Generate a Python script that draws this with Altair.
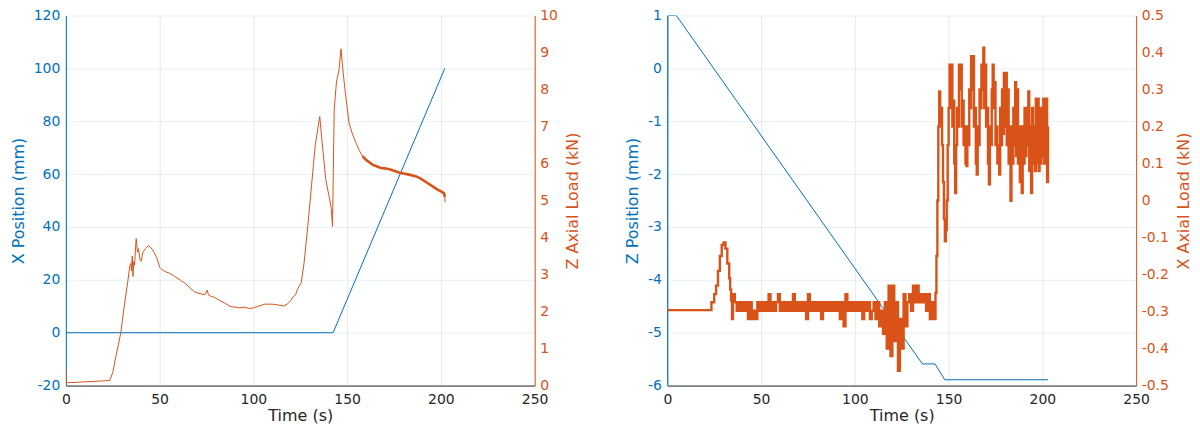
import altair as alt
import pandas as pd

BLUE = "#0072BD"
ORANGE = "#D95319"
DARK = "#262626"
FONT = "DejaVu Sans"

# ---------------- Left panel data ----------------
xpos_t = [0, 142.5, 202.1]
xpos_v = [0, 0, 100]

zload_t = [0, 0.3, 3, 10, 18, 21, 23.4, 25, 26.5, 28, 29.3, 31, 33, 34, 34.6, 35, 35.4, 35.8,
           36.2, 36.6, 37.5, 38.2, 38.8, 39.5, 40.2, 41, 42.5, 44, 45.5, 47, 48.5, 50, 51.5, 53,
           56, 58, 61, 64, 67, 69, 72, 74, 75.4, 76, 77, 79.4, 82, 85, 87.6, 90, 92.5, 95, 98,
           100, 103, 106, 110, 113, 116.3, 118, 120, 121.4, 122.5, 123.5, 125.5, 127, 129, 131,
           133, 135.4, 136.6, 138.6, 140.4, 141.5, 142.2, 143.1, 144.3, 145.7, 146.7, 148,
           149.3, 151, 152.8, 154.6, 156.5, 158.2]
zload_v = [0.48, 0.08, 0.08, 0.1, 0.12, 0.13, 0.14, 0.35, 0.75, 1.1, 1.43, 2.1, 2.8, 3.2, 3.3,
           3.1, 3.5, 2.95, 3.35, 3.25, 3.97, 3.6, 3.7, 3.4, 3.36, 3.6, 3.7, 3.78, 3.72, 3.6,
           3.45, 3.2, 3.12, 3.08, 3.02, 2.95, 2.85, 2.75, 2.6, 2.52, 2.48, 2.45, 2.58, 2.45,
           2.42, 2.38, 2.3, 2.22, 2.14, 2.12, 2.1, 2.12, 2.08, 2.1, 2.15, 2.2, 2.2, 2.18, 2.15,
           2.2, 2.3, 2.41, 2.45, 2.6, 2.78, 3.3, 4.3, 5.4, 6.5, 7.27, 6.6, 5.57, 5.1, 4.8, 4.3,
           7.46, 8.2, 8.54, 9.1, 8.4, 7.8, 7.1, 6.8, 6.57, 6.35, 6.2]

# noisy (thick) tail of the Z axial load
zload_tail_t = [158.2, 160, 163.5, 166, 168, 170, 173, 177.7, 180, 183, 186.5, 189, 192,
                195.4, 198, 200, 201.6, 202.1]
zload_tail_v = [6.2, 6.1, 5.97, 5.92, 5.88, 5.87, 5.84, 5.76, 5.73, 5.7, 5.66, 5.6, 5.5,
                5.39, 5.3, 5.25, 5.2, 5.1]
zload_end_t = [201.6, 202.1, 202.2]
zload_end_v = [5.2, 5.1, 4.95]

# ---------------- Right panel data ----------------
zpos_t = [0, 0.2, 4.8, 136, 142.7, 148, 203]
zpos_v = [-6, 1, 1, -5.59, -5.59, -5.89, -5.89]

xload_t = [0, 23.4, 23.5, 25, 26, 27, 28, 29, 30, 31, 32, 33, 33.5, 34, 34.5,
           35, 36, 37, 38, 39, 40, 41, 42, 43, 44, 45, 46, 47, 48, 49, 50, 51, 52, 53, 54,
           55, 56, 57, 58, 59, 60, 61, 62, 63, 64, 65, 66, 67, 68, 69, 70, 71, 72, 73, 74,
           75, 76, 77, 78, 79, 80, 81, 82, 83, 84, 85, 86, 87, 88, 89, 90, 91, 92, 93, 94,
           95, 96, 97, 98, 99, 100, 101, 102, 103, 104, 105, 106, 107, 108, 109, 110, 111,
           112, 113, 114, 115, 116, 117, 118, 119, 120, 121, 122, 123, 124, 125, 126, 127,
           128, 129, 130, 131, 132, 133, 134, 135, 136, 137, 138, 139, 140, 141, 142, 143,
           143.5, 144, 144.5, 145, 145.5, 146, 146.5, 147, 147.5, 148, 148.5, 149, 149.5,
           150, 150.5, 151, 151.5, 152, 152.5, 153, 153.5, 154, 154.5, 155, 155.5, 156,
           156.5, 157, 157.5, 158, 158.5, 159, 159.5, 160, 160.5, 161, 161.5, 162, 162.5,
           163, 163.5, 164, 164.5, 165, 165.5, 166, 166.5, 167, 167.5, 168, 168.5, 169,
           169.5, 170, 170.5, 171, 171.5, 172, 172.5, 173, 173.5, 174, 174.5, 175, 175.5,
           176, 176.5, 177, 177.5, 178, 178.5, 179, 179.5, 180, 180.5, 181, 181.5, 182,
           182.5, 183, 183.5, 184, 184.5, 185, 185.5, 186, 186.5, 187, 187.5, 188, 188.5,
           189, 189.5, 190, 190.5, 191, 191.5, 192, 192.5, 193, 193.5, 194, 194.5, 195,
           195.5, 196, 196.5, 197, 197.5, 198, 198.5, 199, 199.5, 200, 200.5, 201, 201.5,
           202, 202.5, 203]
xload_v = [-0.296, -0.296, -0.275, -0.253, -0.23, -0.19, -0.15, -0.12, -0.113, -0.13, -0.17,
           -0.21, -0.24, -0.27, -0.32,
           -0.253, -0.275, -0.298, -0.275, -0.298, -0.275, -0.298, -0.275, -0.32, -0.275,
           -0.32, -0.298, -0.32, -0.275, -0.298, -0.275, -0.298, -0.275, -0.298, -0.253,
           -0.298, -0.275, -0.298, -0.275, -0.253, -0.298, -0.275, -0.298, -0.275, -0.298,
           -0.275, -0.298, -0.253, -0.298, -0.275, -0.298, -0.275, -0.298, -0.275, -0.32,
           -0.253, -0.298, -0.275, -0.298, -0.275, -0.298, -0.275, -0.32, -0.275, -0.298,
           -0.275, -0.298, -0.275, -0.298, -0.275, -0.298, -0.275, -0.32, -0.275, -0.34,
           -0.253, -0.298, -0.275, -0.298, -0.275, -0.298, -0.275, -0.298, -0.275, -0.32,
           -0.275, -0.298, -0.275, -0.32, -0.298, -0.275, -0.32, -0.275, -0.34, -0.298,
           -0.36, -0.275, -0.40, -0.23, -0.42, -0.23, -0.38, -0.275, -0.46, -0.32, -0.40,
           -0.253, -0.34, -0.275, -0.253, -0.298, -0.23, -0.275, -0.23, -0.275, -0.253,
           -0.275, -0.253, -0.298, -0.253, -0.32, -0.275, -0.32, -0.25,
           -0.15, 0.0, 0.2, 0.295, 0.2, 0.25, 0.15, 0.05, -0.05, -0.11, -0.08, 0.0, 0.15,
           0.25, 0.367, 0.25, 0.367, 0.2, 0.27, 0.1, 0.02, 0.15, 0.25, 0.2, 0.367, 0.3,
           0.367, 0.2, 0.27, 0.15, 0.2, 0.1, 0.093, 0.2, 0.15, 0.3, 0.25, 0.39, 0.3,
           0.39, 0.2, 0.25, 0.1, 0.07, 0.2, 0.15, 0.3, 0.25, 0.367, 0.3, 0.413, 0.25,
           0.367, 0.2, 0.25, 0.1, 0.044, 0.2, 0.15, 0.3, 0.367, 0.25, 0.32, 0.15, 0.2,
           0.1, 0.15, 0.07, 0.25, 0.15, 0.3, 0.18, 0.345, 0.2, 0.345, 0.15, 0.3, 0.1,
           0.2, -0.001, 0.2, 0.1, 0.25, 0.15, 0.32, 0.12, 0.3, 0.1, 0.2, 0.05, 0.2,
           0.02, 0.2, 0.1, 0.25, 0.12, 0.25, 0.15, 0.295, 0.08, 0.2, 0.02, 0.25, 0.1,
           0.2, 0.08, 0.275, 0.1, 0.275, 0.08, 0.25, 0.1, 0.25, 0.12, 0.275, 0.1, 0.2,
           0.275, 0.05, 0.2]

time_ticks = [0, 50, 100, 150, 200, 250]
xpos_ticks = [-20, 0, 20, 40, 60, 80, 100, 120]
zload_ticks = [0, 1, 2, 3, 4, 5, 6, 7, 8, 9, 10]
zpos_ticks = [-6, -5, -4, -3, -2, -1, 0, 1]
xload_ticks = [-0.5, -0.4, -0.3, -0.2, -0.1, 0, 0.1, 0.2, 0.3, 0.4, 0.5]

W, H = 470, 371
MINUS_FIX = "replace(datum.label, '\u2212', '-')"


def xenc():
    return alt.X(
        "t:Q",
        scale=alt.Scale(domain=[0, 250], nice=False, zero=False),
        axis=alt.Axis(
            title="Time (s)", values=time_ticks, labelFlush=False, ticks=False,
            labelPadding=7, titlePadding=1, domainColor=DARK, labelColor=DARK,
            titleColor=DARK, gridColor=DARK, gridOpacity=0.1, grid=True, format="d",
        ),
    )


def left_axis(title, ticks, fmt):
    return alt.Axis(
        title=title, orient="left", values=ticks, ticks=False, labelPadding=6,
        titlePadding=7, domainColor=BLUE, labelColor=BLUE, titleColor=BLUE,
        grid=True, gridColor=BLUE, gridOpacity=0.1, format=fmt, labelExpr=MINUS_FIX,
    )


def right_axis(title, ticks, fmt):
    return alt.Axis(
        title=title, orient="right", values=ticks, ticks=False, labelPadding=5,
        titlePadding=7, domainColor=ORANGE, labelColor=ORANGE, titleColor=ORANGE,
        grid=False, titleAngle=270, titleBaseline="top", format=fmt,
        labelExpr=MINUS_FIX,
    )


def line(t, v, color, width, yscale_dom, axis, interp="linear"):
    df = pd.DataFrame({"t": t, "v": v})
    return alt.Chart(df).mark_line(
        color=color, strokeWidth=width, clip=True, interpolate=interp
    ).encode(
        x=xenc(),
        y=alt.Y("v:Q", scale=alt.Scale(domain=yscale_dom, nice=False, zero=False), axis=axis),
    )


# left panel
lp_blue = line(xpos_t, xpos_v, BLUE, 1, [-20, 120], left_axis("X Position (mm)", xpos_ticks, "d"))
raxis1 = right_axis("Z Axial Load (kN)", zload_ticks, "d")
lp_or1 = line(zload_t, zload_v, ORANGE, 1, [0, 10], raxis1)
lp_or2 = line(zload_tail_t, zload_tail_v, ORANGE, 2.6, [0, 10], raxis1)
lp_or3 = line(zload_end_t, zload_end_v, ORANGE, 1, [0, 10], raxis1)
left_panel = alt.layer(
    lp_blue, alt.layer(lp_or1, lp_or2, lp_or3)
).resolve_scale(y="independent").properties(width=W, height=H)

# right panel
rp_blue = line(zpos_t, zpos_v, BLUE, 1, [-6, 1], left_axis("Z Position (mm)", zpos_ticks, "d"))
rp_or = line(xload_t, xload_v, ORANGE, 2.4, [-0.5, 0.5],
             right_axis("X Axial Load (kN)", xload_ticks, ".1~f"), interp="step-after")
right_panel = alt.layer(rp_blue, rp_or).resolve_scale(y="independent").properties(
    width=W, height=H)

chart = alt.hconcat(left_panel, right_panel, spacing=44).properties(
    padding={"left": 2, "top": 0, "right": 0, "bottom": 0}
).configure_view(stroke=None).configure_axis(
    labelFont=FONT, titleFont=FONT, labelFontSize=14, titleFontSize=16,
    titleFontWeight="normal", domainWidth=1,
)

chart.save("out.html", embed_options={"renderer": "svg", "actions": False})
